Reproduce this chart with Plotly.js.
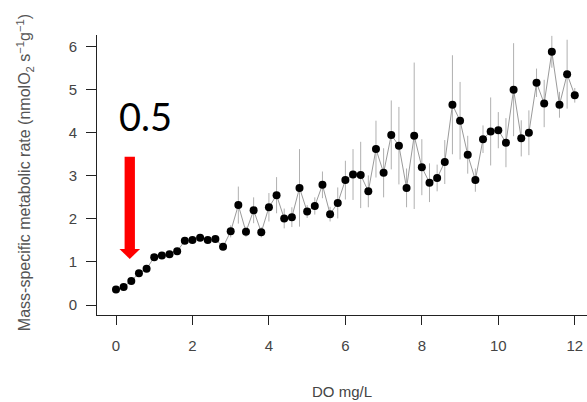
<!DOCTYPE html>
<html>
<head>
<meta charset="utf-8">
<script src="https://cdn.plot.ly/plotly-3.0.1.min.js"></script>
<style>
html,body{margin:0;padding:0;background:#fff;}
#chart{width:587px;height:402px;}
</style>
</head>
<body>
<div id="chart"></div>
<script>
// DO (mg/L)
const doValues = [0,0.2,0.4,0.6,0.8,1.0,1.2,1.4,1.6,1.8,2.0,2.2,2.4,2.6,2.8,3.0,3.2,3.4,3.6,3.8,
  4.0,4.2,4.4,4.6,4.8,5.0,5.2,5.4,5.6,5.8,6.0,6.2,6.4,6.6,6.8,7.0,7.2,7.4,7.6,7.8,
  8.0,8.2,8.4,8.6,8.8,9.0,9.2,9.4,9.6,9.8,10.0,10.2,10.4,10.6,10.8,11.0,11.2,11.4,11.6,11.8,12.0];
// Mass-specific metabolic rate
const rate = [0.36,0.42,0.56,0.74,0.84,1.11,1.15,1.18,1.25,1.49,1.51,1.56,1.51,1.53,1.35,1.71,2.32,1.70,2.20,1.69,
  2.27,2.55,2.01,2.04,2.72,2.17,2.30,2.79,2.11,2.37,2.90,3.03,3.02,2.64,3.62,3.07,3.95,3.70,2.72,3.93,
  3.20,2.84,2.95,3.32,4.65,4.28,3.49,2.90,3.85,4.03,4.06,3.77,5.00,3.87,4.00,5.16,4.68,5.88,4.65,5.36,4.87];
// error (+/-)
const rateErr = [0.03,0.03,0.03,0.04,0.04,0.05,0.05,0.05,0.08,0.06,0.06,0.08,0.06,0.07,0.08,0.14,0.43,0.12,0.30,0.12,
  0.33,0.42,0.23,0.23,0.90,0.15,0.20,0.31,0.17,0.36,0.45,0.59,0.77,0.37,0.66,0.57,0.80,0.90,0.45,1.70,
  0.65,0.45,0.31,0.51,1.15,0.90,0.44,0.27,0.32,0.79,0.42,0.57,1.08,0.42,0.52,0.33,0.55,0.37,0.30,0.80,0.17];
const xTicks = [0,2,4,6,8,10,12];
const yTicks = [0,1,2,3,4,5,6];

const trace = {
  x: doValues, y: rate, type: 'scatter', mode: 'lines+markers',
  line: {color: '#9a9a9a', width: 1},
  marker: {color: '#000', size: 8},
  error_y: {type: 'data', array: rateErr, visible: true, color: '#b0b0b0', thickness: 1, width: 0},
  hoverinfo: 'x+y', showlegend: false
};

// arrow geometry (annotation decoration)
const ax = 0.36, shaftHalf = 0.135, headHalf = 0.27, tail = 3.44, headBase = 1.30, tip = 1.07;

const layout = {
  width: 587, height: 402,
  margin: {l: 97, r: 0, t: 35, b: 87},
  paper_bgcolor: '#fff', plot_bgcolor: '#fff',
  font: {family: 'Liberation Sans, Arial, sans-serif', color: '#444', size: 15},
  xaxis: {
    range: [-0.497, 12.32], tickvals: xTicks, ticktext: xTicks.map(String),
    showgrid: false, zeroline: false, showline: true, linecolor: '#222', linewidth: 1,
    ticks: 'outside', ticklen: 9, tickcolor: '#222', tickwidth: 1, ticklabelstandoff: 8,
    tickfont: {size: 15, color: '#444'},
    title: {text: 'DO mg/L', font: {size: 15, color: '#444'}, standoff: 33}
  },
  yaxis: {
    range: [-0.232, 6.27], tickvals: yTicks, ticktext: yTicks.map(String),
    showgrid: false, zeroline: false, showline: true, linecolor: '#222', linewidth: 1,
    ticks: 'outside', ticklen: 10, tickcolor: '#222', tickwidth: 1, ticklabelstandoff: 6,
    tickfont: {size: 15, color: '#444'}
  },
  shapes: [
    {type: 'rect', xref: 'x', yref: 'y', x0: ax - shaftHalf, x1: ax + shaftHalf, y0: headBase, y1: tail,
     fillcolor: '#ff0000', line: {width: 0}},
    {type: 'path', xref: 'x', yref: 'y',
     path: `M ${ax - headHalf} ${headBase} L ${ax + headHalf} ${headBase} L ${ax} ${tip} Z`,
     fillcolor: '#ff0000', line: {width: 0}}
  ],
  annotations: [
    {text: 'Mass-specific metabolic rate (nmolO<sub>2</sub> s<sup>−1</sup>g<sup>−1</sup>)',
     xref: 'paper', yref: 'paper', x: -0.147, y: 0.51, textangle: -90,
     showarrow: false, font: {size: 16, color: '#555'}, xanchor: 'center', yanchor: 'middle'},
    {text: '0.5', xref: 'x', yref: 'y', x: 0.76, y: 4.4, showarrow: false,
     font: {family: 'Lato, Open Sans, sans-serif', size: 38, color: '#000'}, xanchor: 'center', yanchor: 'middle'}
  ]
};

Plotly.newPlot('chart', [trace], layout, {displayModeBar: false, staticPlot: true});
</script>
</body>
</html>
